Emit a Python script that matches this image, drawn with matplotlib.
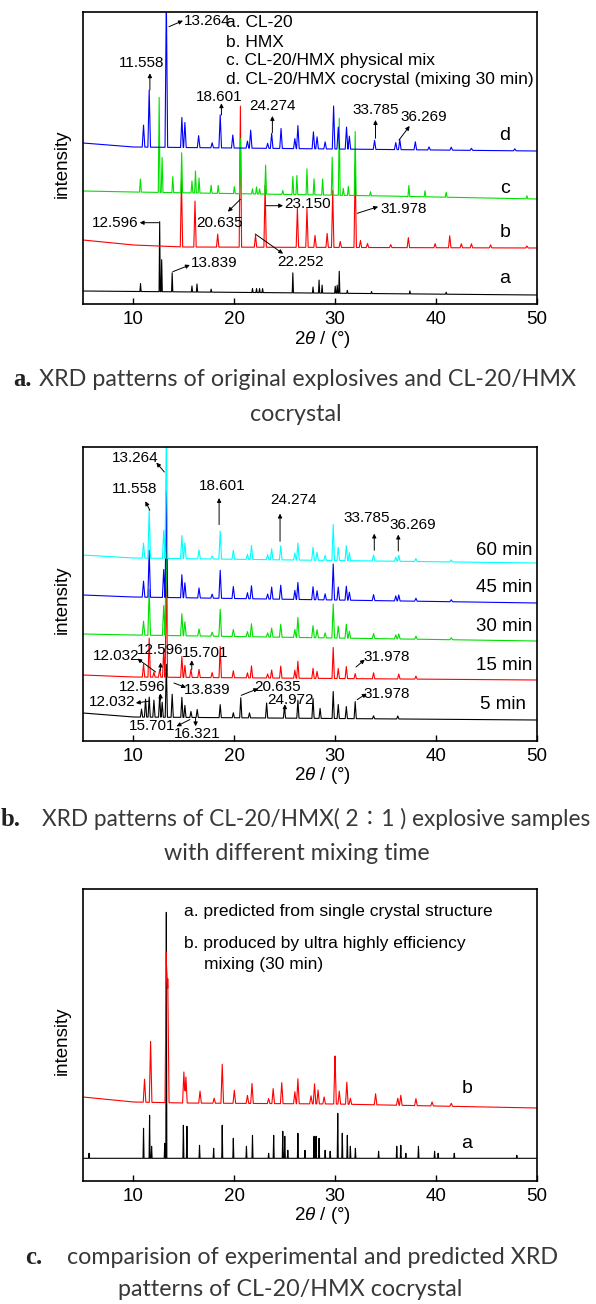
import numpy as np
import matplotlib
matplotlib.use("Agg")
import matplotlib.pyplot as plt

plt.rcParams['font.family'] = ['Liberation Sans', 'DejaVu Sans']
plt.rcParams['mathtext.fontset'] = 'custom'
plt.rcParams['mathtext.it'] = 'Liberation Sans:italic'
plt.rcParams['mathtext.rm'] = 'Liberation Sans'

# ---------------- panel a: raw explosives and cocrystal ----------------
a_cl20_base_x = [5, 50]
a_cl20_base_y = [13, 9]
a_cl20_pos = [10.7, 12.6, 12.8, 13.84, 15.8, 16.3, 17.7, 21.8, 22.2, 22.5, 22.8, 25.8,
              27.8, 28.4, 28.7, 30.0, 30.2, 30.4, 31.2, 33.6, 37.4, 41.0]
a_cl20_h = [8, 70, 32, 19, 6, 8, 3, 4, 4, 4, 4, 20, 6, 13, 8, 7, 8, 22, 3, 2, 3, 2]

a_hmx_base_x = [5, 10, 15, 50]
a_hmx_base_y = [64, 59, 57, 56]
a_hmx_pos = [14.76, 16.1, 18.35, 20.6, 22.1, 23.05, 26.25, 27.2, 28.0, 29.2, 29.75, 30.5,
             31.98, 32.5, 33.2, 35.5, 37.25, 39.9, 41.35, 42.5, 43.5, 45.4, 49.0]
a_hmx_h = [67, 46, 13, 141, 12, 62, 39, 39, 12, 14, 57, 6, 81, 7, 4, 3, 10, 4, 12, 4, 4, 3, 2]

a_mix_base_x = [5, 10, 35, 50]
a_mix_base_y = [113, 112, 108, 105]
a_mix_pos = [10.69, 12.55, 12.84, 13.9, 14.78, 15.8, 16.15, 16.5, 17.7, 18.4, 20.0, 20.6,
             21.8, 22.2, 22.5, 23.1, 24.8, 25.8, 26.2, 27.2, 27.9, 28.75, 29.7, 30.4, 30.8,
             31.3, 31.98, 33.5, 37.3, 38.9, 41.0, 49.0]
a_mix_h = [13, 95, 35, 16, 40, 12, 22, 15, 8, 8, 7, 55, 5, 7, 5, 29, 4, 18, 19, 26, 16, 16,
           38, 77, 7, 9, 64, 4, 11, 6, 5, 3]

a_co_base_x = [5, 10, 50]
a_co_base_y = [161, 157, 153]
a_co_pos = [11.0, 11.56, 13.26, 14.8, 15.1, 16.46, 17.8, 18.6, 19.85, 21.3, 21.62, 23.3,
            23.7, 24.63, 26.0, 26.3, 27.84, 28.2, 29.0, 29.84, 30.3, 31.12, 31.4, 33.9,
            36.0, 36.4, 37.94, 39.3, 41.5, 43.5, 47.8]
a_co_h = [22, 57, 150, 30, 25, 12, 5, 33, 13, 7, 18, 5, 15, 20, 10, 23, 17, 12, 7, 43, 22,
          22, 13, 9, 7, 10, 8, 3, 3, 2, 2]

a_legend = ["a. CL-20", "b. HMX", "c. CL-20/HMX physical mix",
            "d. CL-20/HMX cocrystal (mixing 30 min)"]

# ---------------- panel b: mixing time series ----------------
b_times = ["5 min", "15 min", "30 min", "45 min", "60 min"]

b_5_base_y = [28, 24, 21]
b_5_pos = [10.8, 11.2, 11.56, 12.03, 12.6, 12.85, 13.26, 13.84, 14.8, 15.1, 15.7, 16.32,
           18.6, 19.9, 20.64, 21.5, 23.2, 24.97, 26.3, 27.8, 28.5, 29.8, 30.3, 31.1, 31.98,
           33.8, 36.2]
b_5_h = [8, 18, 20, 17, 22, 15, 53, 23, 20, 12, 6, 8, 13, 5, 20, 5, 15, 12, 18, 20, 10, 27,
         14, 12, 17, 3, 3]

b_15_base_y = [66, 64, 61]
b_15_pos = [11.0, 11.56, 12.03, 12.6, 13.0, 13.26, 14.8, 15.1, 15.7, 16.5, 17.8, 18.6, 19.9,
            21.3, 21.7, 23.3, 23.7, 24.6, 26.0, 26.3, 27.8, 28.2, 29.8, 30.3, 31.1, 31.98,
            33.8, 36.3, 38.0]
b_15_h = [13, 39, 5, 8, 28, 106, 21, 12, 8, 8, 5, 31, 7, 5, 12, 4, 8, 12, 8, 17, 10, 7, 31,
          10, 12, 5, 6, 5, 3]

b_mix_pos = [11.0, 11.56, 13.0, 13.26, 14.8, 15.1, 16.5, 17.8, 18.6, 19.9, 21.3, 21.7, 23.3,
             23.7, 24.6, 26.0, 26.3, 27.8, 28.2, 29.0, 29.8, 30.3, 31.1, 31.4, 33.8, 36.0,
             36.3, 38.0, 41.5]
b_30_base_y = [107, 106, 100]
b_30_h = [14, 46, 30, 105, 22, 14, 7, 4, 27, 7, 5, 13, 4, 9, 13, 8, 20, 12, 8, 5, 34, 12,
          14, 7, 5, 4, 5, 3, 2]
b_45_base_y = [146, 144, 138]
b_45_h = [16, 47, 28, 107, 23, 15, 10, 4, 28, 12, 6, 13, 5, 12, 14, 9, 17, 13, 9, 6, 36, 13,
          14, 8, 6, 5, 6, 3, 2]
b_60_base_y = [186, 183, 178]
b_60_h = [15, 49, 28, 130, 23, 16, 9, 3, 28, 9, 5, 14, 5, 11, 14, 7, 17, 13, 8, 5, 36, 13,
          15, 8, 6, 4, 6, 3, 2]
b_base_x = [5, 10, 50]

# ---------------- panel c: predicted vs experimental ----------------
c_pred_base_x = [5, 50]
c_pred_base_y = [22.7, 22.7]
c_pred_pos = [5.6, 11.0, 11.6, 11.8, 13.1, 13.26, 14.95, 15.3, 16.55, 17.95, 18.8, 19.9,
              21.2, 21.8, 23.4, 23.9, 24.8, 25.0, 25.3, 26.3, 27.0, 27.9, 28.1, 28.4, 29.0,
              29.5, 30.25, 30.7, 31.2, 31.5, 32.0, 34.3, 36.1, 36.5, 37.0, 38.25, 39.85,
              40.2, 41.8, 48.0]
c_pred_h = [5, 30, 43, 12, 15, 246, 33, 32, 13, 10, 33, 20, 12, 23, 5, 23, 27, 22, 8, 25, 8,
            22, 22, 20, 8, 7, 45, 25, 23, 12, 10, 7, 12, 13, 5, 12, 7, 5, 5, 3]

c_exp_base_x = [5, 10, 15, 30, 50]
c_exp_base_y = [84, 79, 78, 77, 73]
c_exp_pos = [11.1, 11.7, 13.26, 13.4, 15.0, 15.2, 16.6, 18.0, 18.8, 20.0, 21.3, 21.75, 23.4,
             23.85, 24.7, 26.0, 26.3, 27.6, 27.95, 28.3, 28.9, 29.98, 30.4, 31.15, 31.5,
             34.0, 36.2, 36.5, 38.0, 39.6, 41.5]
c_exp_h = [23, 61, 150, 124, 31, 26, 12, 5, 39, 13, 8, 20, 5, 15, 21, 12, 25, 8, 20, 14, 7,
           48, 13, 22, 6, 11, 7, 10, 7, 4, 3]

xticks = [10, 20, 30, 40, 50]


def pattern(base_x, base_y, pos, hgt, w):
    # piecewise-linear trace: baseline through read anchor points, a spike at every read peak
    pos = np.asarray(pos, float)
    hgt = np.asarray(hgt, float)
    xs = np.sort(np.concatenate([base_x, pos - w, pos, pos + w]))
    ys = np.interp(xs, base_x, base_y)
    bump = np.zeros_like(xs)
    for p, h in zip(pos, hgt):
        bump = np.maximum(bump, h * np.clip(1 - np.abs(xs - p) / w, 0, 1))
    return xs, ys + bump


W, H = 596, 1304
fig = plt.figure(figsize=(W / 100, H / 100), dpi=100)


def make_axes(top, bottom):
    ax = fig.add_axes([83 / W, 1 - bottom / H, 454 / W, (bottom - top) / H])
    ax.set_xlim(5, 50)
    ax.set_ylim(0, bottom - top)
    ax.set_yticks([])
    ax.set_xticks(xticks)
    ax.tick_params(axis='x', direction='in', length=4, width=1, labelsize=13.5, pad=5)
    for s in ax.spines.values():
        s.set_linewidth(1.2)
    ax.text(0.5 + 13 / 454, -35 / (bottom - top), r"2$\it{\theta}$ / (°)", transform=ax.transAxes,
            ha='center', va='center', fontsize=13.5)
    ax.text(-20.5 / 454, 0.48, "intensity", transform=ax.transAxes, rotation=90,
            ha='center', va='center', fontsize=13.5)
    return ax


def arrow(ax, tail, head):
    ax.annotate("", xy=head, xytext=tail,
                arrowprops=dict(arrowstyle='-|>', color='black', lw=0.7,
                                mutation_scale=6, shrinkA=0, shrinkB=0))


num_fs = 11

# ---- panel a ----
ax = make_axes(12, 304)
ax.plot(*pattern(a_cl20_base_x, a_cl20_base_y, a_cl20_pos, a_cl20_h, 0.06), color='black', lw=0.8)
ax.plot(*pattern(a_hmx_base_x, a_hmx_base_y, a_hmx_pos, a_hmx_h, 0.12), color='#ff0000', lw=0.8)
ax.plot(*pattern(a_mix_base_x, a_mix_base_y, a_mix_pos, a_mix_h, 0.09), color='#00e000', lw=0.8)
ax.plot(*pattern(a_co_base_x, a_co_base_y, a_co_pos, a_co_h, 0.13), color='#0000ff', lw=0.8)

for i, t in enumerate(a_legend):
    ax.text(19.17, [281.3, 261.7, 243.3, 224.7][i], t, ha='left', va='center', fontsize=12.5)
for t, y in zip(['d', 'c', 'b', 'a'], [168, 115.7, 71.3, 25.7]):
    ax.text(46.8, y, t, ha='center', va='center', fontsize=14)

a_notes = [("13.264", (15.03, 283.3), 'left', (13.52, 277.3), (14.9, 283.3)),
           ("11.558", (10.77, 241.3), 'center', (11.63, 214), (11.63, 230.7)),
           ("18.601", (18.53, 206.7), 'center', (18.72, 189), (18.72, 200.7)),
           ("24.274", (23.81, 198), 'center', (23.77, 171.3), (23.77, 188)),
           ("33.785", (34.06, 194), 'center', (33.99, 165.7), (33.99, 184)),
           ("36.269", (38.77, 187.3), 'center', (36.32, 164), (37.38, 178)),
           ("20.635", (18.53, 81.3), 'center', (20.6, 104.7), (19.36, 92.3)),
           ("23.150", (24.94, 100), 'left', (23.13, 98.3), (24.83, 98.3)),
           ("31.978", (34.44, 94.7), 'left', (32.18, 90.7), (34.25, 97.3)),
           ("12.596", (10.5, 81.3), 'right', (12.5, 81.3), (10.62, 81.3)),
           ("13.839", (15.71, 40.7), 'left', (13.9, 32.3), (15.59, 39)),
           ("22.252", (26.52, 42.3), 'center', (22.07, 70), (24.83, 50.3))]
for t, xy, ha, tail, head in a_notes:
    ax.text(xy[0], xy[1], t, ha=ha, va='center', fontsize=num_fs)
    arrow(ax, tail, head)

# ---- panel b ----
ax = make_axes(447, 741)
ax.plot(*pattern(b_base_x, b_5_base_y, b_5_pos, b_5_h, 0.11), color='black', lw=0.8)
ax.plot(*pattern(b_base_x, b_15_base_y, b_15_pos, b_15_h, 0.12), color='#ff0000', lw=0.8)
ax.plot(*pattern(b_base_x, b_30_base_y, b_mix_pos, b_30_h, 0.13), color='#00e000', lw=0.8)
ax.plot(*pattern(b_base_x, b_45_base_y, b_mix_pos, b_45_h, 0.13), color='#0000ff', lw=0.8)
ax.plot(*pattern(b_base_x, b_60_base_y, b_mix_pos, b_60_h, 0.13), color='#00ffff', lw=0.8)

for t, y in zip(b_times[::-1], [190.7, 154, 114.7, 75.7, 36.7]):
    ax.text(49.51 if t != "5 min" else 48.95, y, t, ha='right', va='center', fontsize=13.5)

b_notes = [("13.264", (10.2, 283.4), (13.06, 269), (12.27, 278.4)),
           ("11.558", (10.13, 252.4), (11.63, 230.7), (11.18, 239.7)),
           ("18.601", (18.79, 254.7), (18.49, 216.4), (18.49, 243)),
           ("24.274", (25.88, 240.7), (24.53, 199.7), (24.53, 227.4)),
           ("33.785", (33.12, 223), (33.87, 190.7), (33.87, 207.4)),
           ("36.269", (37.71, 216.4), (36.25, 190), (36.25, 206.4)),
           ("12.032", (8.24, 84.7), (12.2, 69), (10.39, 82.4)),
           ("12.596", (12.69, 91.4), (12.69, 70), (12.69, 78.4)),
           ("15.701", (17.1, 88), (15.78, 71.4), (15.78, 80.7)),
           ("31.978", (35.11, 84), (32.06, 74), (32.93, 81.4)),
           ("12.596", (10.88, 54), (12.69, 40.7), (12.69, 47.4)),
           ("13.839", (17.29, 51.4), (14.01, 58), (15.21, 53.4)),
           ("12.032", (7.94, 39), (11.63, 40), (10.24, 38)),
           ("20.635", (24.26, 54), (20.68, 45.7), (22.37, 52.4)),
           ("24.972", (25.58, 41.4), (25.01, 30.7), (25.01, 36.7)),
           ("31.978", (35.11, 47.4), (32.18, 41.4), (33.12, 47.4)),
           ("15.701", (11.82, 14.7), (15.59, 21.4), (14.27, 14.7)),
           ("16.321", (16.34, 7.4), (16.16, 23.4), (16.16, 14.7))]
for t, xy, tail, head in b_notes:
    ax.text(xy[0], xy[1], t, ha='center', va='center', fontsize=num_fs)
    arrow(ax, tail, head)

# ---- panel c ----
ax = make_axes(889, 1181)
ax.plot(*pattern(c_pred_base_x, c_pred_base_y, c_pred_pos, c_pred_h, 0.05), color='black', lw=0.8)
ax.plot(*pattern(c_exp_base_x, c_exp_base_y, c_exp_pos, c_exp_h, 0.13), color='#ff0000', lw=0.8)
ax.text(14.99, 269.3, "a. predicted from single crystal structure", ha='left', va='center', fontsize=12.5)
ax.text(14.99, 237.7, "b. produced by ultra highly efficiency", ha='left', va='center', fontsize=12.5)
ax.text(17.02, 216, "mixing (30 min)", ha='left', va='center', fontsize=12.5)
ax.text(43.1, 92.7, "b", ha='center', va='center', fontsize=14)
ax.text(43.06, 37.7, "a", ha='center', va='center', fontsize=14)

# ---- captions ----
cap_family = ['Lato', 'Noto Sans CJK SC', 'DejaVu Sans']
cap_color = '#383838'


def fx(px):
    return px / W


def fy(py):
    return 1 - py / H


def fit_size(text, width_px):
    # font size at which a caption line spans the given width in pixels
    probe = fig.text(0, 0, text, family=cap_family, fontsize=14)
    fig.canvas.draw()
    w = probe.get_window_extent().width
    probe.remove()
    return 14 * width_px / w


cap_fs = fit_size("XRD patterns of original explosives and CL-20/HMX", 536)


def caption(tag, tag_x, x, y, line1, line2, x2, y2, fs1):
    fig.text(fx(tag_x), fy(y), tag, family='Liberation Serif', weight='bold',
             fontsize=cap_fs + 1, ha='left', va='center', color='#222222')
    fig.text(fx(x), fy(y), line1, family=cap_family, fontsize=fs1, ha='left',
             va='center', color=cap_color)
    fig.text(fx(x2), fy(y2), line2, family=cap_family, fontsize=cap_fs, ha='center',
             va='center', color=cap_color)


b_line1 = "XRD patterns of CL-20/HMX( 2∶1 ) explosive samples"
caption("a.", 13, 39, 380, "XRD patterns of original explosives and CL-20/HMX",
        "cocrystal", 296, 414, cap_fs)
caption("b.", 1, 42, 819, b_line1,
        "with different mixing time", 297, 854, min(cap_fs, fit_size(b_line1, 548)))
caption("c.", 25, 67, 1257, "comparision of experimental and predicted XRD",
        "patterns of CL-20/HMX cocrystal", 290, 1290, cap_fs)

fig.savefig("out.png", dpi=100)
